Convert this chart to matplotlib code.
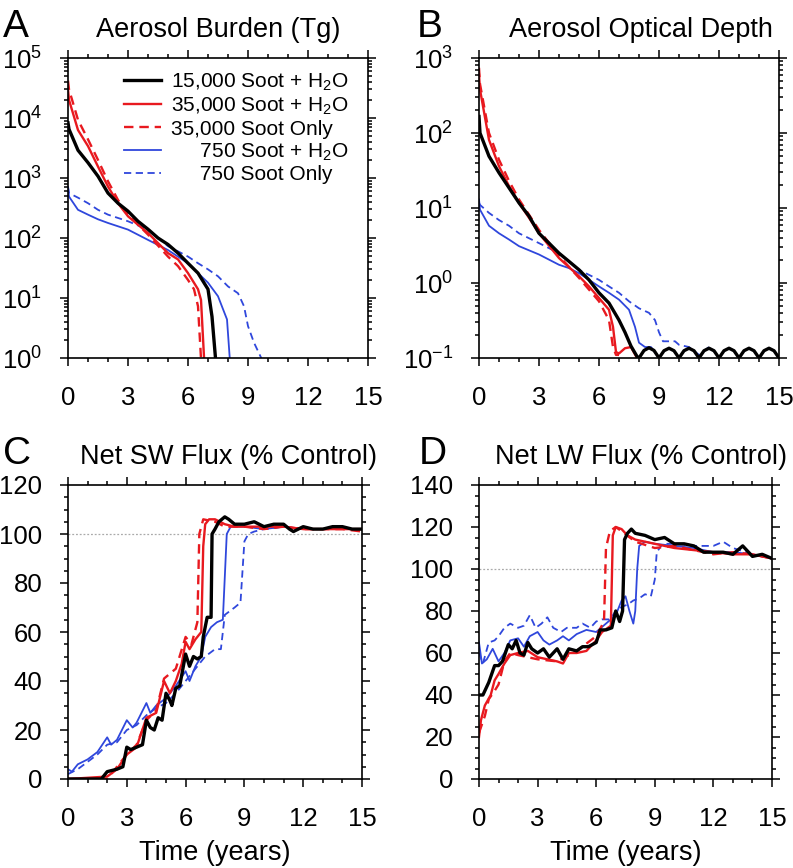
"""Four-panel soot scenario time series (aerosol burden, AOD, SW and LW flux)."""

import matplotlib
matplotlib.use("Agg")
import matplotlib.pyplot as plt
from matplotlib.ticker import MultipleLocator, LogLocator, NullFormatter

plt.rcParams["font.family"] = ["Liberation Sans", "DejaVu Sans"]
plt.rcParams["mathtext.fontset"] = "custom"
plt.rcParams["mathtext.rm"] = "Liberation Sans"
plt.rcParams["mathtext.it"] = "Liberation Sans:italic"

# ---- series labels -------------------------------------------------------
LABELS = {
    "k":  "15,000 Soot + H$_2$O",
    "r":  "35,000 Soot + H$_2$O",
    "rd": "35,000 Soot Only",
    "b":  "     750 Soot + H$_2$O",
    "bd": "     750 Soot Only",
}
RED = "#e8191f"
BLUE = "#2f47dc"
STYLES = {
    "bd": dict(color=BLUE, ls=(0, (4, 2.5)), lw=1.3),
    "b":  dict(color=BLUE, ls="-", lw=1.3),
    "rd": dict(color=RED, ls=(0, (4, 2.5)), lw=1.7),
    "r":  dict(color=RED, ls="-", lw=1.7),
    "k":  dict(color="black", ls="-", lw=2.4),
}
DRAW_ORDER = ["bd", "b", "rd", "r", "k"]
LEGEND_ORDER = ["k", "r", "rd", "b", "bd"]
CONTROL = 100

# ---- A: aerosol burden (Tg) ---------------------------------------------
A_K_T = [0, 0.05, 0.5, 1, 1.5, 2, 2.5, 3, 3.5, 4, 4.5, 5, 5.5, 6, 6.5, 7, 7.2, 7.45]
A_K_V = [8300, 6500, 2900, 1800, 1070, 560, 380, 280, 190, 140, 100, 78, 56, 38, 26, 14, 4.9, 0.5]
A_R_T = [0, 0.05, 0.5, 1, 1.5, 2, 2.5, 3, 4, 5, 5.5, 6, 6.5, 6.65, 6.85]
A_R_V = [30000, 20000, 6300, 3400, 1550, 720, 380, 230, 121, 56, 44, 26, 14, 9.3, 0.5]
A_RD_T = [0, 0.05, 0.5, 1, 1.5, 2, 2.5, 3, 4, 5, 5.5, 6, 6.3, 6.5, 6.7]
A_RD_V = [42000, 30000, 9300, 4400, 2000, 880, 430, 245, 114, 49, 34, 20, 14, 7.3, 0.5]
A_B_T = [0, 0.05, 0.5, 1, 1.5, 2, 3, 4, 5, 6, 6.5, 7, 7.5, 7.7, 7.95, 8.15]
A_B_V = [700, 490, 295, 245, 205, 178, 138, 93, 63, 38, 26, 18, 10.7, 7.2, 4.4, 0.5]
A_BD_T = [0, 0.05, 0.5, 1, 1.5, 2, 3, 4, 5, 5.5, 6, 6.5, 7, 7.5, 8, 8.5, 8.8, 9.0, 9.3, 9.8]
A_BD_V = [720, 560, 470, 380, 295, 245, 190, 138, 73, 60, 49, 38, 30, 23, 15.6, 12, 7.3, 3.4, 1.8, 0.8]

# ---- B: aerosol optical depth -------------------------------------------
B_K_T = [0, 0.05, 0.5, 1, 1.5, 2, 2.5, 3, 3.5, 4, 4.5, 5, 5.5, 6, 6.5, 7, 7.3, 7.6, 7.9,
         8.0, 8.25, 8.5, 8.75, 9.0, 9.25, 9.5, 9.75, 10.0, 10.25, 10.5, 10.75, 11.0,
         11.25, 11.5, 11.75, 12.0, 12.25, 12.5, 12.75, 13.0, 13.25, 13.5, 13.75, 14.0,
         14.25, 14.5, 14.75, 15.0]
B_K_V = [166, 100, 49, 29.5, 18.6, 11.7, 7.8, 4.6, 3.4, 2.5, 1.94, 1.5, 1.1, 0.74, 0.54,
         0.32, 0.22, 0.144, 0.105,
         0.100, 0.126, 0.137, 0.126, 0.100, 0.125, 0.135, 0.125, 0.100, 0.125, 0.135,
         0.125, 0.100, 0.125, 0.135, 0.125, 0.100, 0.125, 0.135, 0.125, 0.100, 0.125,
         0.135, 0.125, 0.100, 0.125, 0.135, 0.125, 0.100]
B_R_T = [0, 0.05, 0.5, 1, 1.5, 2, 2.5, 3, 4, 5, 5.5, 6, 6.5, 6.7, 6.85, 7.0, 7.3, 7.6, 7.9]
B_R_V = [600, 380, 81, 36, 19.6, 11.7, 7.4, 4.6, 2.15, 1.23, 0.9, 0.63, 0.44, 0.26, 0.12,
         0.115, 0.135, 0.14, 0.1]
B_RD_T = [0, 0.05, 0.5, 1, 1.5, 2, 3, 4, 5, 6, 6.5, 6.7, 6.85, 7.0]
B_RD_V = [740, 450, 100, 44, 23, 13, 5.1, 2.3, 1.17, 0.57, 0.32, 0.14, 0.11, 0.11]
B_B_T = [0, 0.05, 0.5, 1, 1.5, 2, 3, 4, 4.5, 5, 6, 6.5, 7, 7.5, 7.8, 8.0, 8.3, 8.6, 8.9]
B_B_V = [13, 9.5, 5.8, 4.6, 3.8, 3.1, 2.4, 1.75, 1.58, 1.35, 0.9, 0.74, 0.6, 0.44, 0.26,
         0.16, 0.14, 0.14, 0.11]
B_BD_T = [0, 0.05, 0.5, 1, 1.5, 2, 3, 4, 5, 6, 6.5, 7, 7.5, 8, 8.5, 8.8, 9.0, 9.2, 9.8,
          10.0, 10.5, 11.0, 11.5, 11.8]
B_BD_V = [11.7, 11, 8.6, 6.9, 5.8, 4.6, 3.4, 2.5, 1.5, 1.1, 0.9, 0.74, 0.57, 0.46, 0.4,
          0.32, 0.22, 0.167, 0.167, 0.15, 0.14, 0.11, 0.14, 0.12]

# ---- C: net SW flux (% control) -----------------------------------------
C_K_T = [0, 1.7, 2.0, 2.5, 2.8, 3.0, 3.2, 3.5, 3.8, 4.0, 4.2, 4.4, 4.6, 4.8, 5.0, 5.2, 5.3,
         5.5, 5.7, 6.0, 6.2, 6.4, 6.6, 6.8, 6.9, 7.1, 7.3, 7.35, 7.5, 7.7, 8.0, 8.2, 8.5,
         9.0, 9.5, 10.0, 10.5, 11.0, 11.3, 11.5, 12.0, 12.5, 13.0, 13.5, 14.0, 14.5, 15.0]
C_K_V = [0, 0, 3, 4, 5, 13, 12, 13, 14, 24, 21, 20, 25, 24, 35, 32, 30, 37, 38, 51, 46, 50,
         49, 50, 58, 66, 66, 100, 102, 105, 107, 106, 104, 104, 105, 103, 104, 104, 102,
         101, 103, 102, 102, 103, 103, 102, 102]
C_R_T = [0, 2.0, 2.5, 3.0, 3.5, 4.0, 4.5, 4.9, 5.2, 5.5, 5.8, 6.0, 6.2, 6.5, 6.8, 6.9, 7.0,
         7.2, 7.5, 8.0, 8.5, 9.0, 10.0, 11.0, 12.0, 13.0, 14.0, 15.0]
C_R_V = [0, 1, 4, 10, 13, 25, 27, 40, 35, 40, 47, 56, 53, 57, 60, 95, 104, 106, 106, 104,
         103, 103, 103, 103, 102, 102, 102, 102]
C_RD_T = [0, 2.0, 3.0, 3.5, 4.0, 4.5, 4.9, 5.5, 6.0, 6.3, 6.6, 6.7, 6.9, 7.5, 8.0, 9.0,
          10.0, 11.0, 12.0, 13.0, 14.0, 15.0]
C_RD_V = [0, 0, 10, 14, 24, 28, 41, 45, 58, 55, 64, 100, 106, 105, 103, 103, 102, 103, 102,
          102, 102, 101]
C_B_T = [0, 0.2, 0.5, 1.0, 1.5, 2.0, 2.2, 2.5, 3.0, 3.3, 3.5, 4.0, 4.2, 4.5, 5.0, 5.5, 6.0,
         6.2, 6.5, 6.8, 7.0, 7.3, 7.6, 7.9, 8.1, 8.3, 9.0, 10.0, 11.0, 12.0, 13.0, 14.0,
         15.0]
C_B_V = [4, 3, 6, 8, 11, 17, 14, 16, 24, 21, 23, 31, 27, 30, 33, 38, 44, 40, 46, 50, 58, 62,
         64, 65, 100, 103, 103, 102, 103, 102, 102, 102, 102]
C_BD_T = [0, 0.5, 1.0, 1.5, 2.0, 2.5, 3.0, 3.5, 4.0, 4.5, 5.0, 5.5, 6.0, 6.5, 7.0, 7.5, 7.8,
          8.0, 8.5, 8.8, 9.0, 9.2, 9.5, 10.0, 11.0, 12.0, 13.0, 14.0, 15.0]
C_BD_V = [2, 4, 7, 10, 14, 15, 20, 22, 26, 29, 31, 35, 40, 45, 50, 53, 53, 67, 70, 72, 97,
          100, 101, 102, 103, 102, 102, 102, 102]

# ---- D: net LW flux (% control) -----------------------------------------
D_K_T = [0, 0.2, 0.5, 0.8, 1.0, 1.2, 1.5, 1.7, 1.9, 2.1, 2.3, 2.5, 2.7, 3.0, 3.3, 3.6, 4.0,
         4.3, 4.6, 5.0, 5.3, 5.6, 6.0, 6.2, 6.5, 6.8, 7.0, 7.2, 7.35, 7.45, 7.6, 7.8, 8.0,
         8.5, 9.0, 9.5, 10.0, 10.5, 11.0, 11.5, 12.0, 12.5, 13.0, 13.5, 13.8, 14.0, 14.5,
         15.0]
D_K_V = [40, 40, 46, 54, 54, 56, 64, 62, 66, 60, 59, 65, 62, 60, 62, 58, 62, 57, 62, 61, 63,
         63, 65, 71, 71, 72, 80, 75, 80, 114, 117, 119, 117, 116, 114, 115, 112, 112, 111,
         108, 108, 108, 107, 111, 108, 106, 107, 105]
D_R_T = [0, 0.1, 0.3, 0.6, 0.8, 1.0, 1.3, 1.6, 2.0, 2.5, 3.0, 3.5, 4.0, 4.3, 4.6, 5.0, 5.5,
         6.0, 6.3, 6.6, 6.75, 6.85, 7.0, 7.3, 7.6, 8.0, 9.0, 10.0, 11.0, 12.0, 13.0, 14.0,
         15.0]
D_R_V = [20, 28, 35, 40, 47, 50, 55, 59, 60, 61, 58, 57, 56, 55, 60, 60, 61, 66, 70, 72, 73,
         116, 120, 119, 116, 114, 112, 110, 109, 108, 107, 107, 105]
D_RD_T = [0, 0.3, 0.5, 0.8, 1.0, 1.3, 1.6, 2.0, 3.0, 4.0, 5.0, 6.0, 6.4, 6.5, 6.7, 7.0, 7.3,
          8.0, 9.0, 10.0, 11.0, 12.0, 13.0, 14.0, 15.0]
D_RD_V = [22, 30, 38, 42, 45, 56, 60, 59, 57, 56, 61, 68, 75, 110, 118, 120, 118, 113, 110,
          111, 109, 107, 108, 107, 105]
D_B_T = [0, 0.15, 0.4, 0.7, 1.0, 1.3, 1.6, 2.0, 2.3, 2.6, 3.0, 3.3, 3.6, 4.0, 4.3, 4.6, 5.0,
         5.5, 6.0, 6.5, 7.0, 7.3, 7.5, 7.7, 7.9, 8.0, 8.1, 8.2, 8.5, 9.0, 10.0, 11.0, 12.0,
         13.0, 14.0, 15.0]
D_B_V = [65, 55, 57, 62, 56, 60, 66, 67, 63, 68, 70, 66, 64, 66, 68, 66, 69, 71, 70, 74, 78,
         85, 87, 80, 74, 80, 100, 111, 113, 112, 111, 110, 108, 108, 107, 105]
D_BD_T = [0, 0.2, 0.5, 0.8, 1.0, 1.3, 1.6, 2.0, 2.3, 2.6, 2.9, 3.2, 3.5, 3.8, 4.2, 4.5, 5.0,
          5.3, 5.7, 6.0, 6.3, 6.7, 7.0, 7.3, 7.6, 7.9, 8.2, 8.5, 8.8, 9.0, 9.1, 9.4, 10.0,
          11.0, 12.0, 12.5, 13.0, 14.0, 15.0]
D_BD_V = [60, 55, 65, 66, 68, 72, 74, 72, 73, 78, 72, 74, 77, 72, 70, 72, 72, 74, 72, 75, 76,
          76, 80, 82, 83, 85, 86, 88, 87, 95, 108, 112, 112, 111, 111, 113, 110, 107, 105]

PANELS = [
    ("A", "Aerosol Burden (Tg)", {
        "k": (A_K_T, A_K_V), "r": (A_R_T, A_R_V), "rd": (A_RD_T, A_RD_V),
        "b": (A_B_T, A_B_V), "bd": (A_BD_T, A_BD_V)}),
    ("B", "Aerosol Optical Depth", {
        "k": (B_K_T, B_K_V), "r": (B_R_T, B_R_V), "rd": (B_RD_T, B_RD_V),
        "b": (B_B_T, B_B_V), "bd": (B_BD_T, B_BD_V)}),
    ("C", "Net SW Flux (% Control)", {
        "k": (C_K_T, C_K_V), "r": (C_R_T, C_R_V), "rd": (C_RD_T, C_RD_V),
        "b": (C_B_T, C_B_V), "bd": (C_BD_T, C_BD_V)}),
    ("D", "Net LW Flux (% Control)", {
        "k": (D_K_T, D_K_V), "r": (D_R_T, D_R_V), "rd": (D_RD_T, D_RD_V),
        "b": (D_B_T, D_B_V), "bd": (D_BD_T, D_BD_V)}),
]

W, H = 793, 868
fig = plt.figure(figsize=(W / 100, H / 100), dpi=100, facecolor="white")

# axes boxes in pixels: left, top, width, height
BOXES = {
    "A": (68, 58, 300, 300),
    "B": (479, 58, 300, 300),
    "C": (68, 485, 294, 294),
    "D": (479, 485, 293, 294),
}
LETTER_X = {"A": 3, "B": 417, "C": 3, "D": 419}
# title placement: (x in axes fraction, ha)
TITLE_POS = {"A": (0.5, "center"), "B": (0.54, "center"),
             "C": (1.05, "right"), "D": (1.05, "right")}
TICK_FS = 18.5
TITLE_FS = 19.5

for letter, title, series in PANELS:
    l, t, w, h = BOXES[letter]
    ax = fig.add_axes([l / W, 1 - (t + h) / H, w / W, h / H])

    for key in DRAW_ORDER:
        x, y = series[key]
        ax.plot(x, y, label=LABELS[key], **STYLES[key])

    ax.set_xlim(0, 15)
    ax.xaxis.set_major_locator(MultipleLocator(3))
    ax.xaxis.set_minor_locator(MultipleLocator(1))

    if letter == "A":
        ax.set_yscale("log")
        ax.set_ylim(1, 1e5)
    elif letter == "B":
        ax.set_yscale("log")
        ax.set_ylim(0.1, 1e3)
    elif letter == "C":
        ax.set_ylim(0, 120)
        ax.yaxis.set_major_locator(MultipleLocator(20))
        ax.yaxis.set_minor_locator(MultipleLocator(5))
    else:
        ax.set_ylim(0, 140)
        ax.yaxis.set_major_locator(MultipleLocator(20))
        ax.yaxis.set_minor_locator(MultipleLocator(5))

    if letter in ("A", "B"):
        ax.yaxis.set_major_locator(LogLocator(base=10, numticks=10))
        ax.yaxis.set_minor_locator(LogLocator(base=10, subs=range(2, 10), numticks=20))
        ax.yaxis.set_minor_formatter(NullFormatter())
    else:
        ax.axhline(CONTROL, color="#aaaaaa", ls=(0, (1.5, 1.5)), lw=0.9, zorder=0)
        ax.set_xlabel("Time (years)", fontsize=TITLE_FS, labelpad=6)

    ax.tick_params(which="both", direction="out", top=True, right=True,
                   labelsize=TICK_FS, width=1.1)
    ax.tick_params(which="major", length=5.5, pad=13)
    ax.tick_params(which="minor", length=3.2)
    ax.tick_params(axis="x", pad=15)
    for sp in ax.spines.values():
        sp.set_linewidth(1.2)

    tx, ha = TITLE_POS[letter]
    ax.text(tx, 1.0 + 21 / h, title, transform=ax.transAxes, ha=ha,
            va="baseline", fontsize=TITLE_FS)

    fig.text(LETTER_X[letter] / W, 1 - (t - 21) / H, letter, fontsize=28,
             va="baseline", ha="left")

    if letter == "A":
        handles, labels = ax.get_legend_handles_labels()
        lookup = dict(zip(labels, handles))
        order = [LABELS[k] for k in LEGEND_ORDER]
        ax.legend([lookup[o] for o in order], order, loc="upper right",
                  bbox_to_anchor=(0.935, 0.955), frameon=False, fontsize=15,
                  handlelength=1.75, handletextpad=0.5, labelspacing=0.13,
                  borderpad=0, borderaxespad=0)

fig.savefig("out.png", dpi=100, facecolor="white")
